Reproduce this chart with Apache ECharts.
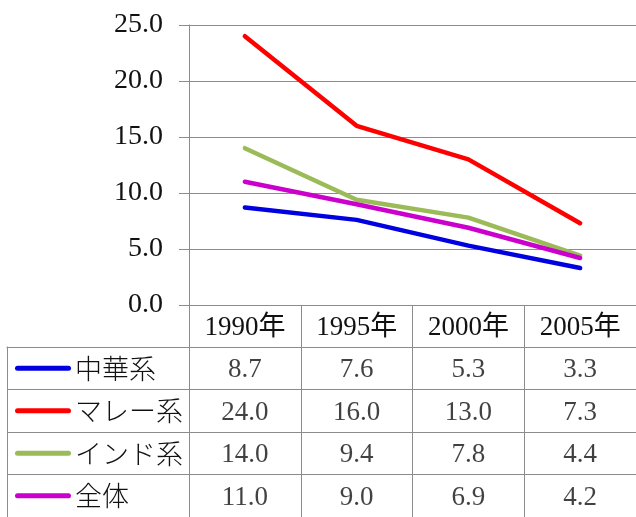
<!DOCTYPE html>
<html>
<head>
<meta charset="utf-8">
<script src="https://cdn.jsdelivr.net/npm/echarts@6/dist/echarts.min.js"></script>
<style>
html,body{margin:0;padding:0;background:#fff;}
#c{width:636px;height:517px;}
</style>
</head>
<body>
<div id="c"></div>
<script>
const categories = ['1990年', '1995年', '2000年', '2005年'];
const seriesNames = ['中華系', 'マレー系', 'インド系', '全体'];
const chineseVals = [8.7, 7.6, 5.3, 3.3];
const malayVals = [24.0, 16.0, 13.0, 7.3];
const indianVals = [14.0, 9.4, 7.8, 4.4];
const totalVals = [11.0, 9.0, 6.9, 4.2];
const yMin = 0, yMax = 25, yStep = 5;
const colors = ['#0000E0', '#FF0000', '#9BBB59', '#CC00CC'];

const allVals = [chineseVals, malayVals, indianVals, totalVals];
const numFont = '"Liberation Serif", "Noto Sans CJK JP", serif';
const jpFont = '"Noto Sans CJK JP", sans-serif';
const gridColor = '#8C8C8C';
const textColor = '#111';

const tableData = [];
allVals.forEach((vals, i) => vals.forEach((v, j) => tableData.push([j, i, v])));

const lineSeries = allVals.map((vals, i) => ({
  type: 'line', name: seriesNames[i], xAxisIndex: 0, yAxisIndex: 0,
  data: vals, showSymbol: false, symbol: 'none',
  lineStyle: { color: colors[i], width: 4.5, cap: 'round', join: 'round' },
  itemStyle: { color: colors[i] }, animation: false, z: 3 + i
}));

const rich = { t: { fontFamily: jpFont, fontSize: 27, fontWeight: 300, color: textColor, padding: [0, 0, 0, 4] } };
colors.forEach((c, i) => {
  rich['l' + i] = { width: 56, height: 5, backgroundColor: c, borderRadius: 3 };
});

const option = {
  animation: false,
  backgroundColor: '#fff',
  grid: [
    { left: 189, top: 25, width: 456, height: 280, containLabel: false },
    { left: 189, top: 347, width: 456, height: 177, containLabel: false },
    { left: 7, top: 347, width: 182, height: 177, containLabel: false }
  ],
  xAxis: [
    {
      gridIndex: 0, type: 'category', data: categories, boundaryGap: true,
      axisLine: { show: true, lineStyle: { color: gridColor, width: 1 } },
      axisTick: { show: true, length: 42, inside: false, interval: 0, lineStyle: { color: gridColor } },
      axisLabel: { show: true, interval: 0, margin: 9, fontFamily: numFont, fontSize: 27, color: textColor },
      splitLine: { show: false }
    },
    {
      gridIndex: 1, type: 'category', data: categories, boundaryGap: true, position: 'top',
      axisLine: { show: true, lineStyle: { color: gridColor } },
      axisTick: { show: false }, axisLabel: { show: false },
      splitLine: { show: true, interval: 0, lineStyle: { color: gridColor, width: 1 } }
    },
    {
      gridIndex: 2, type: 'value', min: 0, max: 1, position: 'top',
      axisLine: { show: true, lineStyle: { color: gridColor } },
      axisTick: { show: false }, axisLabel: { show: false }, splitLine: { show: false }
    }
  ],
  yAxis: [
    {
      gridIndex: 0, type: 'value', min: yMin, max: yMax, interval: yStep,
      axisLine: { show: true, lineStyle: { color: gridColor } },
      axisTick: { show: true, length: 10, inside: false, lineStyle: { color: gridColor } },
      axisLabel: { show: true, margin: 26, fontFamily: numFont, fontSize: 28, color: textColor,
        formatter: v => v.toFixed(1) },
      splitLine: { show: true, lineStyle: { color: gridColor, width: 1 } }
    },
    {
      gridIndex: 1, type: 'category', data: seriesNames, inverse: true,
      axisLine: { show: true, lineStyle: { color: gridColor } },
      axisTick: { show: false }, axisLabel: { show: false },
      splitLine: { show: true, interval: 0, lineStyle: { color: gridColor, width: 1 } }
    },
    {
      gridIndex: 2, type: 'category', data: seriesNames, inverse: true,
      axisLine: { show: true, lineStyle: { color: gridColor } },
      axisTick: { show: false },
      axisLabel: { show: true, inside: true, margin: 8, interval: 0,
        formatter: (v, idx) => '{l' + idx + '|}{t|' + v + '}', rich: rich },
      splitLine: { show: true, interval: 0, lineStyle: { color: gridColor, width: 1 } }
    }
  ],
  series: lineSeries.concat([{
    type: 'scatter', xAxisIndex: 1, yAxisIndex: 1, data: tableData,
    symbolSize: 1, itemStyle: { color: 'rgba(0,0,0,0)' },
    label: { show: true, position: 'inside', offset: [0, 2], fontFamily: numFont, fontSize: 27, color: textColor,
      formatter: p => p.value[2].toFixed(1) },
    silent: true
  }])
};

const chart = echarts.init(document.getElementById('c'));
chart.setOption(option);
</script>
</body>
</html>
